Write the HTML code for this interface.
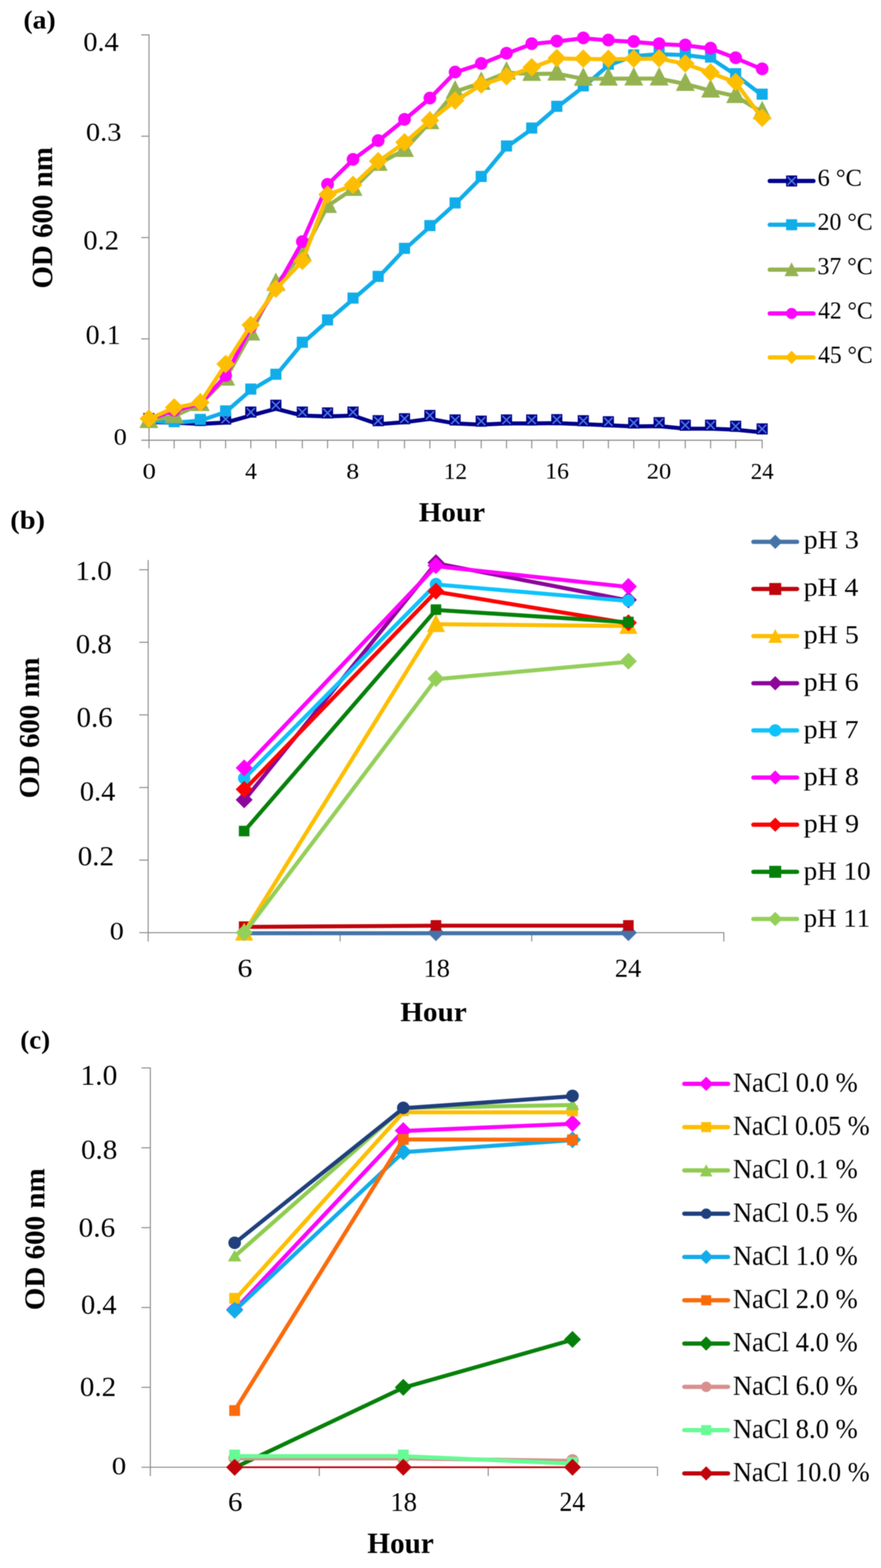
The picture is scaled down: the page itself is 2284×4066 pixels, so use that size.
<!DOCTYPE html>
<html lang="en">
<head>
<meta charset="utf-8">
<title>Growth curves: temperature, pH and NaCl</title>
<style>
html, body { margin: 0; padding: 0; background: #ffffff; }
body { width: 2284px; height: 4066px; overflow: hidden; }
svg { display: block; font-family: 'Liberation Serif', serif; font-kerning: none; font-variant-ligatures: none; filter: blur(1.1px); }
</style>
</head>
<body>
<svg width="2284" height="4066" viewBox="0 0 2284 4066">
<rect width="2284" height="4066" fill="#ffffff"/>
<line x1="386.3" y1="89.1" x2="386.3" y2="1162.6" stroke="#878787" stroke-width="2.6" stroke-linecap="butt"/>
<line x1="366.3" y1="1141.6" x2="1977.2" y2="1141.6" stroke="#878787" stroke-width="2.6" stroke-linecap="butt"/>
<line x1="366.3" y1="878.8" x2="386.3" y2="878.8" stroke="#878787" stroke-width="2.6" stroke-linecap="butt"/>
<line x1="366.3" y1="616.0" x2="386.3" y2="616.0" stroke="#878787" stroke-width="2.6" stroke-linecap="butt"/>
<line x1="366.3" y1="353.2" x2="386.3" y2="353.2" stroke="#878787" stroke-width="2.6" stroke-linecap="butt"/>
<line x1="366.3" y1="90.4" x2="386.3" y2="90.4" stroke="#878787" stroke-width="2.6" stroke-linecap="butt"/>
<line x1="451.6" y1="1141.6" x2="451.6" y2="1162.6" stroke="#878787" stroke-width="2.6" stroke-linecap="butt"/>
<line x1="519.3" y1="1141.6" x2="519.3" y2="1162.6" stroke="#878787" stroke-width="2.6" stroke-linecap="butt"/>
<line x1="584.9" y1="1141.6" x2="584.9" y2="1162.6" stroke="#878787" stroke-width="2.6" stroke-linecap="butt"/>
<line x1="650.2" y1="1141.6" x2="650.2" y2="1162.6" stroke="#878787" stroke-width="2.6" stroke-linecap="butt"/>
<line x1="715.2" y1="1141.6" x2="715.2" y2="1162.6" stroke="#878787" stroke-width="2.6" stroke-linecap="butt"/>
<line x1="783.8" y1="1141.6" x2="783.8" y2="1162.6" stroke="#878787" stroke-width="2.6" stroke-linecap="butt"/>
<line x1="849.2" y1="1141.6" x2="849.2" y2="1162.6" stroke="#878787" stroke-width="2.6" stroke-linecap="butt"/>
<line x1="915.2" y1="1141.6" x2="915.2" y2="1162.6" stroke="#878787" stroke-width="2.6" stroke-linecap="butt"/>
<line x1="980.4" y1="1141.6" x2="980.4" y2="1162.6" stroke="#878787" stroke-width="2.6" stroke-linecap="butt"/>
<line x1="1048.7" y1="1141.6" x2="1048.7" y2="1162.6" stroke="#878787" stroke-width="2.6" stroke-linecap="butt"/>
<line x1="1114.5" y1="1141.6" x2="1114.5" y2="1162.6" stroke="#878787" stroke-width="2.6" stroke-linecap="butt"/>
<line x1="1179.9" y1="1141.6" x2="1179.9" y2="1162.6" stroke="#878787" stroke-width="2.6" stroke-linecap="butt"/>
<line x1="1247.6" y1="1141.6" x2="1247.6" y2="1162.6" stroke="#878787" stroke-width="2.6" stroke-linecap="butt"/>
<line x1="1313.1" y1="1141.6" x2="1313.1" y2="1162.6" stroke="#878787" stroke-width="2.6" stroke-linecap="butt"/>
<line x1="1378.5" y1="1141.6" x2="1378.5" y2="1162.6" stroke="#878787" stroke-width="2.6" stroke-linecap="butt"/>
<line x1="1443.5" y1="1141.6" x2="1443.5" y2="1162.6" stroke="#878787" stroke-width="2.6" stroke-linecap="butt"/>
<line x1="1512.2" y1="1141.6" x2="1512.2" y2="1162.6" stroke="#878787" stroke-width="2.6" stroke-linecap="butt"/>
<line x1="1577.2" y1="1141.6" x2="1577.2" y2="1162.6" stroke="#878787" stroke-width="2.6" stroke-linecap="butt"/>
<line x1="1643.0" y1="1141.6" x2="1643.0" y2="1162.6" stroke="#878787" stroke-width="2.6" stroke-linecap="butt"/>
<line x1="1708.8" y1="1141.6" x2="1708.8" y2="1162.6" stroke="#878787" stroke-width="2.6" stroke-linecap="butt"/>
<line x1="1776.6" y1="1141.6" x2="1776.6" y2="1162.6" stroke="#878787" stroke-width="2.6" stroke-linecap="butt"/>
<line x1="1842.2" y1="1141.6" x2="1842.2" y2="1162.6" stroke="#878787" stroke-width="2.6" stroke-linecap="butt"/>
<line x1="1907.2" y1="1141.6" x2="1907.2" y2="1162.6" stroke="#878787" stroke-width="2.6" stroke-linecap="butt"/>
<line x1="1975.9" y1="1141.6" x2="1975.9" y2="1162.6" stroke="#878787" stroke-width="2.6" stroke-linecap="butt"/>
<polyline points="385.8,1094.4 451.6,1096.0 519.3,1099.2 584.9,1095.7 650.2,1077.6 715.2,1059.9 783.8,1077.6 849.2,1079.8 915.2,1077.6 980.4,1099.9 1048.7,1094.9 1114.5,1086.4 1179.9,1098.0 1247.6,1101.1 1313.1,1098.0 1378.5,1098.0 1443.5,1097.2 1512.2,1100.0 1577.2,1102.7 1643.0,1105.8 1708.8,1105.0 1776.6,1111.6 1842.2,1111.6 1907.2,1114.3 1975.9,1121.2" fill="none" stroke="#00008a" stroke-width="10.4" stroke-linejoin="round" stroke-linecap="round"/>
<rect x="371.4" y="1071.0" width="28.8" height="28.8" fill="#00008a"/>
<path d="M375.1 1074.7L396.5 1096.1M396.5 1074.7L375.1 1096.1" stroke="#4a78dc" stroke-width="4.0" fill="none"/>
<rect x="437.2" y="1072.6" width="28.8" height="28.8" fill="#00008a"/>
<path d="M440.9 1076.3L462.3 1097.7M462.3 1076.3L440.9 1097.7" stroke="#4a78dc" stroke-width="4.0" fill="none"/>
<rect x="504.9" y="1075.8" width="28.8" height="28.8" fill="#00008a"/>
<path d="M508.6 1079.5L530.0 1100.9M530.0 1079.5L508.6 1100.9" stroke="#4a78dc" stroke-width="4.0" fill="none"/>
<rect x="570.5" y="1072.3" width="28.8" height="28.8" fill="#00008a"/>
<path d="M574.2 1076.0L595.6 1097.4M595.6 1076.0L574.2 1097.4" stroke="#4a78dc" stroke-width="4.0" fill="none"/>
<rect x="635.8" y="1054.2" width="28.8" height="28.8" fill="#00008a"/>
<path d="M639.5 1057.9L660.9 1079.3M660.9 1057.9L639.5 1079.3" stroke="#4a78dc" stroke-width="4.0" fill="none"/>
<rect x="700.8" y="1036.5" width="28.8" height="28.8" fill="#00008a"/>
<path d="M704.5 1040.2L725.9 1061.6M725.9 1040.2L704.5 1061.6" stroke="#4a78dc" stroke-width="4.0" fill="none"/>
<rect x="769.4" y="1054.2" width="28.8" height="28.8" fill="#00008a"/>
<path d="M773.1 1057.9L794.5 1079.3M794.5 1057.9L773.1 1079.3" stroke="#4a78dc" stroke-width="4.0" fill="none"/>
<rect x="834.8" y="1056.4" width="28.8" height="28.8" fill="#00008a"/>
<path d="M838.5 1060.1L859.9 1081.5M859.9 1060.1L838.5 1081.5" stroke="#4a78dc" stroke-width="4.0" fill="none"/>
<rect x="900.8" y="1054.2" width="28.8" height="28.8" fill="#00008a"/>
<path d="M904.5 1057.9L925.9 1079.3M925.9 1057.9L904.5 1079.3" stroke="#4a78dc" stroke-width="4.0" fill="none"/>
<rect x="966.0" y="1076.5" width="28.8" height="28.8" fill="#00008a"/>
<path d="M969.7 1080.2L991.1 1101.6M991.1 1080.2L969.7 1101.6" stroke="#4a78dc" stroke-width="4.0" fill="none"/>
<rect x="1034.3" y="1071.5" width="28.8" height="28.8" fill="#00008a"/>
<path d="M1038.0 1075.2L1059.4 1096.6M1059.4 1075.2L1038.0 1096.6" stroke="#4a78dc" stroke-width="4.0" fill="none"/>
<rect x="1100.1" y="1063.0" width="28.8" height="28.8" fill="#00008a"/>
<path d="M1103.8 1066.7L1125.2 1088.1M1125.2 1066.7L1103.8 1088.1" stroke="#4a78dc" stroke-width="4.0" fill="none"/>
<rect x="1165.5" y="1074.6" width="28.8" height="28.8" fill="#00008a"/>
<path d="M1169.2 1078.3L1190.6 1099.7M1190.6 1078.3L1169.2 1099.7" stroke="#4a78dc" stroke-width="4.0" fill="none"/>
<rect x="1233.2" y="1077.7" width="28.8" height="28.8" fill="#00008a"/>
<path d="M1236.9 1081.4L1258.3 1102.8M1258.3 1081.4L1236.9 1102.8" stroke="#4a78dc" stroke-width="4.0" fill="none"/>
<rect x="1298.7" y="1074.6" width="28.8" height="28.8" fill="#00008a"/>
<path d="M1302.4 1078.3L1323.8 1099.7M1323.8 1078.3L1302.4 1099.7" stroke="#4a78dc" stroke-width="4.0" fill="none"/>
<rect x="1364.1" y="1074.6" width="28.8" height="28.8" fill="#00008a"/>
<path d="M1367.8 1078.3L1389.2 1099.7M1389.2 1078.3L1367.8 1099.7" stroke="#4a78dc" stroke-width="4.0" fill="none"/>
<rect x="1429.1" y="1073.8" width="28.8" height="28.8" fill="#00008a"/>
<path d="M1432.8 1077.5L1454.2 1098.9M1454.2 1077.5L1432.8 1098.9" stroke="#4a78dc" stroke-width="4.0" fill="none"/>
<rect x="1497.8" y="1076.6" width="28.8" height="28.8" fill="#00008a"/>
<path d="M1501.5 1080.3L1522.9 1101.7M1522.9 1080.3L1501.5 1101.7" stroke="#4a78dc" stroke-width="4.0" fill="none"/>
<rect x="1562.8" y="1079.3" width="28.8" height="28.8" fill="#00008a"/>
<path d="M1566.5 1083.0L1587.9 1104.4M1587.9 1083.0L1566.5 1104.4" stroke="#4a78dc" stroke-width="4.0" fill="none"/>
<rect x="1628.6" y="1082.4" width="28.8" height="28.8" fill="#00008a"/>
<path d="M1632.3 1086.1L1653.7 1107.5M1653.7 1086.1L1632.3 1107.5" stroke="#4a78dc" stroke-width="4.0" fill="none"/>
<rect x="1694.4" y="1081.6" width="28.8" height="28.8" fill="#00008a"/>
<path d="M1698.1 1085.3L1719.5 1106.7M1719.5 1085.3L1698.1 1106.7" stroke="#4a78dc" stroke-width="4.0" fill="none"/>
<rect x="1762.2" y="1088.2" width="28.8" height="28.8" fill="#00008a"/>
<path d="M1765.9 1091.9L1787.3 1113.3M1787.3 1091.9L1765.9 1113.3" stroke="#4a78dc" stroke-width="4.0" fill="none"/>
<rect x="1827.8" y="1088.2" width="28.8" height="28.8" fill="#00008a"/>
<path d="M1831.5 1091.9L1852.9 1113.3M1852.9 1091.9L1831.5 1113.3" stroke="#4a78dc" stroke-width="4.0" fill="none"/>
<rect x="1892.8" y="1090.9" width="28.8" height="28.8" fill="#00008a"/>
<path d="M1896.5 1094.6L1917.9 1116.0M1917.9 1094.6L1896.5 1116.0" stroke="#4a78dc" stroke-width="4.0" fill="none"/>
<rect x="1961.5" y="1097.8" width="28.8" height="28.8" fill="#00008a"/>
<path d="M1965.2 1101.5L1986.6 1122.9M1986.6 1101.5L1965.2 1122.9" stroke="#4a78dc" stroke-width="4.0" fill="none"/>
<polyline points="385.8,1091.0 451.6,1096.5 519.3,1090.6 584.9,1068.5 650.2,1011.9 715.2,973.5 783.8,890.5 849.2,832.5 915.2,776.0 980.4,719.7 1048.7,647.0 1114.5,588.0 1179.9,529.2 1247.6,460.6 1313.1,381.5 1378.5,335.0 1443.5,278.7 1512.2,225.6 1577.2,169.5 1643.0,145.4 1708.8,140.5 1776.6,142.7 1842.2,151.0 1907.2,194.1 1975.9,247.2" fill="none" stroke="#10adea" stroke-width="10.4" stroke-linejoin="round" stroke-linecap="round"/>
<rect x="371.4" y="1073.6" width="28.8" height="28.8" fill="#10adea"/>
<rect x="437.2" y="1079.1" width="28.8" height="28.8" fill="#10adea"/>
<rect x="504.9" y="1073.2" width="28.8" height="28.8" fill="#10adea"/>
<rect x="570.5" y="1051.1" width="28.8" height="28.8" fill="#10adea"/>
<rect x="635.8" y="994.5" width="28.8" height="28.8" fill="#10adea"/>
<rect x="700.8" y="956.1" width="28.8" height="28.8" fill="#10adea"/>
<rect x="769.4" y="873.1" width="28.8" height="28.8" fill="#10adea"/>
<rect x="834.8" y="815.1" width="28.8" height="28.8" fill="#10adea"/>
<rect x="900.8" y="758.6" width="28.8" height="28.8" fill="#10adea"/>
<rect x="966.0" y="702.3" width="28.8" height="28.8" fill="#10adea"/>
<rect x="1034.3" y="629.6" width="28.8" height="28.8" fill="#10adea"/>
<rect x="1100.1" y="570.6" width="28.8" height="28.8" fill="#10adea"/>
<rect x="1165.5" y="511.8" width="28.8" height="28.8" fill="#10adea"/>
<rect x="1233.2" y="443.2" width="28.8" height="28.8" fill="#10adea"/>
<rect x="1298.7" y="364.1" width="28.8" height="28.8" fill="#10adea"/>
<rect x="1364.1" y="317.6" width="28.8" height="28.8" fill="#10adea"/>
<rect x="1429.1" y="261.3" width="28.8" height="28.8" fill="#10adea"/>
<rect x="1497.8" y="208.2" width="28.8" height="28.8" fill="#10adea"/>
<rect x="1562.8" y="152.1" width="28.8" height="28.8" fill="#10adea"/>
<rect x="1628.6" y="128.0" width="28.8" height="28.8" fill="#10adea"/>
<rect x="1694.4" y="123.1" width="28.8" height="28.8" fill="#10adea"/>
<rect x="1762.2" y="125.3" width="28.8" height="28.8" fill="#10adea"/>
<rect x="1827.8" y="133.6" width="28.8" height="28.8" fill="#10adea"/>
<rect x="1892.8" y="176.7" width="28.8" height="28.8" fill="#10adea"/>
<rect x="1961.5" y="229.8" width="28.8" height="28.8" fill="#10adea"/>
<polyline points="385.8,1092.0 451.6,1079.0 519.3,1048.0 584.9,982.0 650.2,865.0 715.2,736.5 783.8,659.0 849.2,534.3 915.2,490.0 980.4,425.0 1048.7,389.0 1114.5,317.0 1179.9,237.6 1247.6,215.0 1313.1,188.5 1378.5,191.8 1443.5,191.0 1512.2,204.4 1577.2,204.0 1643.0,203.8 1708.8,203.8 1776.6,217.7 1842.2,235.0 1907.2,249.2 1975.9,291.3" fill="none" stroke="#94b350" stroke-width="10.4" stroke-linejoin="round" stroke-linecap="round"/>
<path d="M385.8 1062.0L410.3 1110.0L361.3 1110.0Z" fill="#94b350"/>
<path d="M451.6 1049.0L476.1 1097.0L427.1 1097.0Z" fill="#94b350"/>
<path d="M519.3 1018.0L543.8 1066.0L494.8 1066.0Z" fill="#94b350"/>
<path d="M584.9 952.0L609.4 1000.0L560.4 1000.0Z" fill="#94b350"/>
<path d="M650.2 835.0L674.7 883.0L625.7 883.0Z" fill="#94b350"/>
<path d="M715.2 706.5L739.7 754.5L690.7 754.5Z" fill="#94b350"/>
<path d="M783.8 629.0L808.3 677.0L759.3 677.0Z" fill="#94b350"/>
<path d="M849.2 504.3L873.7 552.3L824.7 552.3Z" fill="#94b350"/>
<path d="M915.2 460.0L939.7 508.0L890.7 508.0Z" fill="#94b350"/>
<path d="M980.4 395.0L1004.9 443.0L955.9 443.0Z" fill="#94b350"/>
<path d="M1048.7 359.0L1073.2 407.0L1024.2 407.0Z" fill="#94b350"/>
<path d="M1114.5 287.0L1139.0 335.0L1090.0 335.0Z" fill="#94b350"/>
<path d="M1179.9 207.6L1204.4 255.6L1155.4 255.6Z" fill="#94b350"/>
<path d="M1247.6 185.0L1272.1 233.0L1223.1 233.0Z" fill="#94b350"/>
<path d="M1313.1 158.5L1337.6 206.5L1288.6 206.5Z" fill="#94b350"/>
<path d="M1378.5 161.8L1403.0 209.8L1354.0 209.8Z" fill="#94b350"/>
<path d="M1443.5 161.0L1468.0 209.0L1419.0 209.0Z" fill="#94b350"/>
<path d="M1512.2 174.4L1536.7 222.4L1487.7 222.4Z" fill="#94b350"/>
<path d="M1577.2 174.0L1601.7 222.0L1552.7 222.0Z" fill="#94b350"/>
<path d="M1643.0 173.8L1667.5 221.8L1618.5 221.8Z" fill="#94b350"/>
<path d="M1708.8 173.8L1733.3 221.8L1684.3 221.8Z" fill="#94b350"/>
<path d="M1776.6 187.7L1801.1 235.7L1752.1 235.7Z" fill="#94b350"/>
<path d="M1842.2 205.0L1866.7 253.0L1817.7 253.0Z" fill="#94b350"/>
<path d="M1907.2 219.2L1931.7 267.2L1882.7 267.2Z" fill="#94b350"/>
<path d="M1975.9 261.3L2000.4 309.3L1951.4 309.3Z" fill="#94b350"/>
<polyline points="385.8,1087.0 451.6,1065.0 519.3,1047.0 584.9,974.8 650.2,849.0 715.2,749.0 783.8,627.5 849.2,478.9 915.2,414.2 980.4,365.6 1048.7,310.4 1114.5,255.2 1179.9,187.8 1247.6,165.6 1313.1,139.0 1378.5,114.2 1443.5,107.5 1512.2,99.2 1577.2,104.8 1643.0,108.5 1708.8,114.2 1776.6,117.5 1842.2,125.8 1907.2,150.7 1975.9,179.5" fill="none" stroke="#fd04fd" stroke-width="10.4" stroke-linejoin="round" stroke-linecap="round"/>
<circle cx="385.8" cy="1086.0" r="16.5" fill="#fd04fd"/>
<circle cx="451.6" cy="1064.0" r="16.5" fill="#fd04fd"/>
<circle cx="519.3" cy="1046.0" r="16.5" fill="#fd04fd"/>
<circle cx="584.9" cy="973.8" r="16.5" fill="#fd04fd"/>
<circle cx="650.2" cy="848.0" r="16.5" fill="#fd04fd"/>
<circle cx="715.2" cy="748.0" r="16.5" fill="#fd04fd"/>
<circle cx="783.8" cy="626.5" r="16.5" fill="#fd04fd"/>
<circle cx="849.2" cy="477.9" r="16.5" fill="#fd04fd"/>
<circle cx="915.2" cy="413.2" r="16.5" fill="#fd04fd"/>
<circle cx="980.4" cy="364.6" r="16.5" fill="#fd04fd"/>
<circle cx="1048.7" cy="309.4" r="16.5" fill="#fd04fd"/>
<circle cx="1114.5" cy="254.2" r="16.5" fill="#fd04fd"/>
<circle cx="1179.9" cy="186.8" r="16.5" fill="#fd04fd"/>
<circle cx="1247.6" cy="164.6" r="16.5" fill="#fd04fd"/>
<circle cx="1313.1" cy="138.0" r="16.5" fill="#fd04fd"/>
<circle cx="1378.5" cy="113.2" r="16.5" fill="#fd04fd"/>
<circle cx="1443.5" cy="106.5" r="16.5" fill="#fd04fd"/>
<circle cx="1512.2" cy="98.2" r="16.5" fill="#fd04fd"/>
<circle cx="1577.2" cy="103.8" r="16.5" fill="#fd04fd"/>
<circle cx="1643.0" cy="107.5" r="16.5" fill="#fd04fd"/>
<circle cx="1708.8" cy="113.2" r="16.5" fill="#fd04fd"/>
<circle cx="1776.6" cy="116.5" r="16.5" fill="#fd04fd"/>
<circle cx="1842.2" cy="124.8" r="16.5" fill="#fd04fd"/>
<circle cx="1907.2" cy="149.7" r="16.5" fill="#fd04fd"/>
<circle cx="1975.9" cy="178.5" r="16.5" fill="#fd04fd"/>
<polyline points="385.8,1086.4 451.6,1057.6 519.3,1044.4 584.9,944.9 650.2,843.7 715.2,749.5 783.8,677.5 849.2,505.4 915.2,480.5 980.4,419.1 1048.7,370.0 1114.5,313.2 1179.9,261.8 1247.6,220.3 1313.1,198.8 1378.5,175.5 1443.5,151.5 1512.2,153.0 1577.2,153.5 1643.0,153.0 1708.8,152.0 1776.6,165.6 1842.2,188.8 1907.2,213.7 1975.9,306.6" fill="none" stroke="#fdbe02" stroke-width="10.4" stroke-linejoin="round" stroke-linecap="round"/>
<path d="M385.8 1061.4L409.8 1085.4L385.8 1109.4L361.8 1085.4Z" fill="#fdbe02"/>
<path d="M451.6 1032.6L475.6 1056.6L451.6 1080.6L427.6 1056.6Z" fill="#fdbe02"/>
<path d="M519.3 1019.4L543.3 1043.4L519.3 1067.4L495.3 1043.4Z" fill="#fdbe02"/>
<path d="M584.9 919.9L608.9 943.9L584.9 967.9L560.9 943.9Z" fill="#fdbe02"/>
<path d="M650.2 818.7L674.2 842.7L650.2 866.7L626.2 842.7Z" fill="#fdbe02"/>
<path d="M715.2 724.5L739.2 748.5L715.2 772.5L691.2 748.5Z" fill="#fdbe02"/>
<path d="M783.8 652.5L807.8 676.5L783.8 700.5L759.8 676.5Z" fill="#fdbe02"/>
<path d="M849.2 480.4L873.2 504.4L849.2 528.4L825.2 504.4Z" fill="#fdbe02"/>
<path d="M915.2 455.5L939.2 479.5L915.2 503.5L891.2 479.5Z" fill="#fdbe02"/>
<path d="M980.4 394.1L1004.4 418.1L980.4 442.1L956.4 418.1Z" fill="#fdbe02"/>
<path d="M1048.7 345.0L1072.7 369.0L1048.7 393.0L1024.7 369.0Z" fill="#fdbe02"/>
<path d="M1114.5 288.2L1138.5 312.2L1114.5 336.2L1090.5 312.2Z" fill="#fdbe02"/>
<path d="M1179.9 236.8L1203.9 260.8L1179.9 284.8L1155.9 260.8Z" fill="#fdbe02"/>
<path d="M1247.6 195.3L1271.6 219.3L1247.6 243.3L1223.6 219.3Z" fill="#fdbe02"/>
<path d="M1313.1 173.8L1337.1 197.8L1313.1 221.8L1289.1 197.8Z" fill="#fdbe02"/>
<path d="M1378.5 150.5L1402.5 174.5L1378.5 198.5L1354.5 174.5Z" fill="#fdbe02"/>
<path d="M1443.5 126.5L1467.5 150.5L1443.5 174.5L1419.5 150.5Z" fill="#fdbe02"/>
<path d="M1512.2 128.0L1536.2 152.0L1512.2 176.0L1488.2 152.0Z" fill="#fdbe02"/>
<path d="M1577.2 128.5L1601.2 152.5L1577.2 176.5L1553.2 152.5Z" fill="#fdbe02"/>
<path d="M1643.0 128.0L1667.0 152.0L1643.0 176.0L1619.0 152.0Z" fill="#fdbe02"/>
<path d="M1708.8 127.0L1732.8 151.0L1708.8 175.0L1684.8 151.0Z" fill="#fdbe02"/>
<path d="M1776.6 140.6L1800.6 164.6L1776.6 188.6L1752.6 164.6Z" fill="#fdbe02"/>
<path d="M1842.2 163.8L1866.2 187.8L1842.2 211.8L1818.2 187.8Z" fill="#fdbe02"/>
<path d="M1907.2 188.7L1931.2 212.7L1907.2 236.7L1883.2 212.7Z" fill="#fdbe02"/>
<path d="M1975.9 281.6L1999.9 305.6L1975.9 329.6L1951.9 305.6Z" fill="#fdbe02"/>
<line x1="1995.5" y1="469.3" x2="2109.0" y2="469.3" stroke="#00008a" stroke-width="11" stroke-linecap="round"/>
<rect x="2038.0" y="455.0" width="28.6" height="28.6" fill="#00008a"/>
<path d="M2041.7 458.7L2062.8 479.9M2062.8 458.7L2041.7 479.9" stroke="#4a78dc" stroke-width="4.0" fill="none"/>
<line x1="1995.5" y1="582.8" x2="2109.0" y2="582.8" stroke="#10adea" stroke-width="11" stroke-linecap="round"/>
<rect x="2038.0" y="568.5" width="28.6" height="28.6" fill="#10adea"/>
<line x1="1995.5" y1="699.3" x2="2109.0" y2="699.3" stroke="#94b350" stroke-width="11" stroke-linecap="round"/>
<path d="M2052.2 680.3L2070.8 716.3L2033.8 716.3Z" fill="#94b350"/>
<line x1="1995.5" y1="812.8" x2="2109.0" y2="812.8" stroke="#fd04fd" stroke-width="11" stroke-linecap="round"/>
<circle cx="2052.2" cy="812.8" r="14.3" fill="#fd04fd"/>
<line x1="1995.5" y1="926.8" x2="2109.0" y2="926.8" stroke="#fdbe02" stroke-width="11" stroke-linecap="round"/>
<path d="M2052.2 909.5L2069.6 926.8L2052.2 944.1L2035.0 926.8Z" fill="#fdbe02"/>
<line x1="384.1" y1="1452.3" x2="384.1" y2="2441.5" stroke="#878787" stroke-width="2.6" stroke-linecap="butt"/>
<line x1="361.1" y1="2418.5" x2="1877.8" y2="2418.5" stroke="#878787" stroke-width="2.6" stroke-linecap="butt"/>
<line x1="361.1" y1="2230.3" x2="384.1" y2="2230.3" stroke="#878787" stroke-width="2.6" stroke-linecap="butt"/>
<line x1="361.1" y1="2042.1" x2="384.1" y2="2042.1" stroke="#878787" stroke-width="2.6" stroke-linecap="butt"/>
<line x1="361.1" y1="1853.8" x2="384.1" y2="1853.8" stroke="#878787" stroke-width="2.6" stroke-linecap="butt"/>
<line x1="361.1" y1="1665.6" x2="384.1" y2="1665.6" stroke="#878787" stroke-width="2.6" stroke-linecap="butt"/>
<line x1="361.1" y1="1477.4" x2="384.1" y2="1477.4" stroke="#878787" stroke-width="2.6" stroke-linecap="butt"/>
<line x1="881.8" y1="2418.5" x2="881.8" y2="2441.5" stroke="#878787" stroke-width="2.6" stroke-linecap="butt"/>
<line x1="1378.5" y1="2418.5" x2="1378.5" y2="2441.5" stroke="#878787" stroke-width="2.6" stroke-linecap="butt"/>
<line x1="1876.5" y1="2418.5" x2="1876.5" y2="2441.5" stroke="#878787" stroke-width="2.6" stroke-linecap="butt"/>
<polyline points="633.0,2420.0 1130.2,2420.0 1629.1,2420.0" fill="none" stroke="#4573a7" stroke-width="10.4" stroke-linejoin="round" stroke-linecap="round"/>
<path d="M633.0 2396.5L655.0 2418.5L633.0 2440.5L611.0 2418.5Z" fill="#4573a7"/>
<path d="M1130.2 2396.5L1152.2 2418.5L1130.2 2440.5L1108.2 2418.5Z" fill="#4573a7"/>
<path d="M1629.1 2396.5L1651.1 2418.5L1629.1 2440.5L1607.1 2418.5Z" fill="#4573a7"/>
<polyline points="633.0,2403.6 1130.2,2400.4 1629.1,2400.4" fill="none" stroke="#c0040b" stroke-width="10.4" stroke-linejoin="round" stroke-linecap="round"/>
<rect x="619.3" y="2389.2" width="27.4" height="27.4" fill="#c0040b"/>
<rect x="1116.5" y="2386.0" width="27.4" height="27.4" fill="#c0040b"/>
<rect x="1615.4" y="2386.0" width="27.4" height="27.4" fill="#c0040b"/>
<polyline points="633.0,2418.5 1130.2,1618.6 1629.1,1623.3" fill="none" stroke="#fdbe02" stroke-width="10.4" stroke-linejoin="round" stroke-linecap="round"/>
<path d="M633.0 2392.5L656.5 2439.0L609.5 2439.0Z" fill="#fdbe02"/>
<path d="M1130.2 1592.6L1153.7 1639.1L1106.7 1639.1Z" fill="#fdbe02"/>
<path d="M1629.1 1597.3L1652.6 1643.8L1605.6 1643.8Z" fill="#fdbe02"/>
<polyline points="633.0,2075.6 1130.2,1460.5 1629.1,1557.0" fill="none" stroke="#8b069b" stroke-width="10.4" stroke-linejoin="round" stroke-linecap="round"/>
<path d="M633.0 2052.1L655.0 2074.1L633.0 2096.1L611.0 2074.1Z" fill="#8b069b"/>
<path d="M1130.2 1437.0L1152.2 1459.0L1130.2 1481.0L1108.2 1459.0Z" fill="#8b069b"/>
<path d="M1629.1 1533.5L1651.1 1555.5L1629.1 1577.5L1607.1 1555.5Z" fill="#8b069b"/>
<polyline points="633.0,2018.9 1130.2,1515.6 1629.1,1558.4" fill="none" stroke="#0dc3fb" stroke-width="10.4" stroke-linejoin="round" stroke-linecap="round"/>
<circle cx="633.0" cy="2017.9" r="16.0" fill="#0dc3fb"/>
<circle cx="1130.2" cy="1514.6" r="16.0" fill="#0dc3fb"/>
<circle cx="1629.1" cy="1557.4" r="16.0" fill="#0dc3fb"/>
<polyline points="633.0,1992.7 1130.2,1468.1 1629.1,1522.2" fill="none" stroke="#fe02fe" stroke-width="10.4" stroke-linejoin="round" stroke-linecap="round"/>
<path d="M633.0 1969.2L655.0 1991.2L633.0 2013.2L611.0 1991.2Z" fill="#fe02fe"/>
<path d="M1130.2 1444.6L1152.2 1466.6L1130.2 1488.6L1108.2 1466.6Z" fill="#fe02fe"/>
<path d="M1629.1 1498.7L1651.1 1520.7L1629.1 1542.7L1607.1 1520.7Z" fill="#fe02fe"/>
<polyline points="633.0,2048.3 1130.2,1534.4 1629.1,1616.3" fill="none" stroke="#fd0303" stroke-width="10.4" stroke-linejoin="round" stroke-linecap="round"/>
<path d="M633.0 2024.8L655.0 2046.8L633.0 2068.8L611.0 2046.8Z" fill="#fd0303"/>
<path d="M1130.2 1510.9L1152.2 1532.9L1130.2 1554.9L1108.2 1532.9Z" fill="#fd0303"/>
<path d="M1629.1 1592.8L1651.1 1614.8L1629.1 1636.8L1607.1 1614.8Z" fill="#fd0303"/>
<polyline points="633.0,2155.7 1130.2,1581.6 1629.1,1613.6" fill="none" stroke="#06800a" stroke-width="10.4" stroke-linejoin="round" stroke-linecap="round"/>
<rect x="619.3" y="2141.3" width="27.4" height="27.4" fill="#06800a"/>
<rect x="1116.5" y="1567.2" width="27.4" height="27.4" fill="#06800a"/>
<rect x="1615.4" y="1599.2" width="27.4" height="27.4" fill="#06800a"/>
<polyline points="633.0,2420.0 1130.2,1761.2 1629.1,1716.1" fill="none" stroke="#94cf5a" stroke-width="10.4" stroke-linejoin="round" stroke-linecap="round"/>
<path d="M633.0 2396.5L655.0 2418.5L633.0 2440.5L611.0 2418.5Z" fill="#94cf5a"/>
<path d="M1130.2 1737.7L1152.2 1759.7L1130.2 1781.7L1108.2 1759.7Z" fill="#94cf5a"/>
<path d="M1629.1 1692.6L1651.1 1714.6L1629.1 1736.6L1607.1 1714.6Z" fill="#94cf5a"/>
<line x1="1953.1" y1="1405.0" x2="2066.5" y2="1405.0" stroke="#4573a7" stroke-width="11" stroke-linecap="round"/>
<path d="M2009.8 1386.5L2028.3 1405.0L2009.8 1423.5L1991.3 1405.0Z" fill="#4573a7"/>
<line x1="1953.1" y1="1527.2" x2="2066.5" y2="1527.2" stroke="#c0040b" stroke-width="11" stroke-linecap="round"/>
<rect x="1994.3" y="1511.8" width="31.0" height="31.0" fill="#c0040b"/>
<line x1="1953.1" y1="1649.5" x2="2066.5" y2="1649.5" stroke="#fdbe02" stroke-width="11" stroke-linecap="round"/>
<path d="M2009.8 1631.0L2027.8 1667.0L1991.8 1667.0Z" fill="#fdbe02"/>
<line x1="1953.1" y1="1771.8" x2="2066.5" y2="1771.8" stroke="#8b069b" stroke-width="11" stroke-linecap="round"/>
<path d="M2009.8 1753.2L2028.3 1771.8L2009.8 1790.2L1991.3 1771.8Z" fill="#8b069b"/>
<line x1="1953.1" y1="1894.0" x2="2066.5" y2="1894.0" stroke="#0dc3fb" stroke-width="11" stroke-linecap="round"/>
<circle cx="2009.8" cy="1894.0" r="16.0" fill="#0dc3fb"/>
<line x1="1953.1" y1="2016.2" x2="2066.5" y2="2016.2" stroke="#fe02fe" stroke-width="11" stroke-linecap="round"/>
<path d="M2009.8 1997.8L2028.3 2016.2L2009.8 2034.8L1991.3 2016.2Z" fill="#fe02fe"/>
<line x1="1953.1" y1="2138.5" x2="2066.5" y2="2138.5" stroke="#fd0303" stroke-width="11" stroke-linecap="round"/>
<path d="M2009.8 2120.0L2028.3 2138.5L2009.8 2157.0L1991.3 2138.5Z" fill="#fd0303"/>
<line x1="1953.1" y1="2260.8" x2="2066.5" y2="2260.8" stroke="#06800a" stroke-width="11" stroke-linecap="round"/>
<rect x="1994.3" y="2245.2" width="31.0" height="31.0" fill="#06800a"/>
<line x1="1953.1" y1="2383.0" x2="2066.5" y2="2383.0" stroke="#94cf5a" stroke-width="11" stroke-linecap="round"/>
<path d="M2009.8 2364.5L2028.3 2383.0L2009.8 2401.5L1991.3 2383.0Z" fill="#94cf5a"/>
<line x1="389.8" y1="2767.9" x2="389.8" y2="3827.7" stroke="#878787" stroke-width="2.6" stroke-linecap="butt"/>
<line x1="366.8" y1="3804.7" x2="1705.9" y2="3804.7" stroke="#878787" stroke-width="2.6" stroke-linecap="butt"/>
<line x1="366.8" y1="3597.6" x2="389.8" y2="3597.6" stroke="#878787" stroke-width="2.6" stroke-linecap="butt"/>
<line x1="366.8" y1="3390.5" x2="389.8" y2="3390.5" stroke="#878787" stroke-width="2.6" stroke-linecap="butt"/>
<line x1="366.8" y1="3183.4" x2="389.8" y2="3183.4" stroke="#878787" stroke-width="2.6" stroke-linecap="butt"/>
<line x1="366.8" y1="2976.3" x2="389.8" y2="2976.3" stroke="#878787" stroke-width="2.6" stroke-linecap="butt"/>
<line x1="366.8" y1="2769.2" x2="389.8" y2="2769.2" stroke="#878787" stroke-width="2.6" stroke-linecap="butt"/>
<line x1="827.8" y1="3804.7" x2="827.8" y2="3827.7" stroke="#878787" stroke-width="2.6" stroke-linecap="butt"/>
<line x1="1265.8" y1="3804.7" x2="1265.8" y2="3827.7" stroke="#878787" stroke-width="2.6" stroke-linecap="butt"/>
<line x1="1704.6" y1="3804.7" x2="1704.6" y2="3827.7" stroke="#878787" stroke-width="2.6" stroke-linecap="butt"/>
<polyline points="608.3,3396.7 1045.5,2932.8 1484.2,2914.1" fill="none" stroke="#fe02fe" stroke-width="10.4" stroke-linejoin="round" stroke-linecap="round"/>
<path d="M608.3 3373.7L630.3 3395.7L608.3 3417.7L586.3 3395.7Z" fill="#fe02fe"/>
<path d="M1045.5 2909.8L1067.5 2931.8L1045.5 2953.8L1023.5 2931.8Z" fill="#fe02fe"/>
<path d="M1484.2 2891.1L1506.2 2913.1L1484.2 2935.1L1462.2 2913.1Z" fill="#fe02fe"/>
<polyline points="608.3,3370.6 1045.5,2884.4 1484.2,2884.4" fill="none" stroke="#fdbe02" stroke-width="10.4" stroke-linejoin="round" stroke-linecap="round"/>
<rect x="594.3" y="3352.7" width="28.0" height="28.0" fill="#fdbe02"/>
<rect x="1031.5" y="2866.5" width="28.0" height="28.0" fill="#fdbe02"/>
<rect x="1470.2" y="2866.5" width="28.0" height="28.0" fill="#fdbe02"/>
<polyline points="608.3,3258.0 1045.5,2872.8 1484.2,2865.5" fill="none" stroke="#8fcc4f" stroke-width="10.4" stroke-linejoin="round" stroke-linecap="round"/>
<path d="M608.3 3241.0L625.8 3271.0L590.8 3271.0Z" fill="#8fcc4f"/>
<path d="M1045.5 2855.8L1063.0 2885.8L1028.0 2885.8Z" fill="#8fcc4f"/>
<path d="M1484.2 2848.5L1501.7 2878.5L1466.7 2878.5Z" fill="#8fcc4f"/>
<polyline points="608.3,3223.7 1045.5,2873.8 1484.2,2842.7" fill="none" stroke="#1f3f7d" stroke-width="10.4" stroke-linejoin="round" stroke-linecap="round"/>
<circle cx="608.3" cy="3222.7" r="16.3" fill="#1f3f7d"/>
<circle cx="1045.5" cy="2872.8" r="16.3" fill="#1f3f7d"/>
<circle cx="1484.2" cy="2841.7" r="16.3" fill="#1f3f7d"/>
<polyline points="608.3,3398.7 1045.5,2987.7 1484.2,2956.6" fill="none" stroke="#12ace9" stroke-width="10.4" stroke-linejoin="round" stroke-linecap="round"/>
<path d="M608.3 3375.7L630.3 3397.7L608.3 3419.7L586.3 3397.7Z" fill="#12ace9"/>
<path d="M1045.5 2964.7L1067.5 2986.7L1045.5 3008.7L1023.5 2986.7Z" fill="#12ace9"/>
<path d="M1484.2 2933.6L1506.2 2955.6L1484.2 2977.6L1462.2 2955.6Z" fill="#12ace9"/>
<polyline points="608.3,3657.7 1045.5,2954.6 1484.2,2955.6" fill="none" stroke="#fb6a0a" stroke-width="10.4" stroke-linejoin="round" stroke-linecap="round"/>
<rect x="594.3" y="3643.7" width="28.0" height="28.0" fill="#fb6a0a"/>
<rect x="1031.5" y="2940.6" width="28.0" height="28.0" fill="#fb6a0a"/>
<rect x="1470.2" y="2941.6" width="28.0" height="28.0" fill="#fb6a0a"/>
<polyline points="608.3,3805.7 1045.5,3598.6 1484.2,3474.3" fill="none" stroke="#06800a" stroke-width="10.4" stroke-linejoin="round" stroke-linecap="round"/>
<path d="M608.3 3782.7L630.3 3804.7L608.3 3826.7L586.3 3804.7Z" fill="#06800a"/>
<path d="M1045.5 3575.6L1067.5 3597.6L1045.5 3619.6L1023.5 3597.6Z" fill="#06800a"/>
<path d="M1484.2 3451.3L1506.2 3473.3L1484.2 3495.3L1462.2 3473.3Z" fill="#06800a"/>
<polyline points="608.3,3781.9 1045.5,3781.9 1484.2,3788.1" fill="none" stroke="#d8908f" stroke-width="10.4" stroke-linejoin="round" stroke-linecap="round"/>
<circle cx="608.3" cy="3780.9" r="16.3" fill="#d8908f"/>
<circle cx="1045.5" cy="3780.9" r="16.3" fill="#d8908f"/>
<circle cx="1484.2" cy="3787.1" r="16.3" fill="#d8908f"/>
<polyline points="608.3,3776.0 1045.5,3776.0 1484.2,3795.3" fill="none" stroke="#66fb95" stroke-width="10.4" stroke-linejoin="round" stroke-linecap="round"/>
<rect x="594.3" y="3759.0" width="28.0" height="28.0" fill="#66fb95"/>
<rect x="1031.5" y="3759.0" width="28.0" height="28.0" fill="#66fb95"/>
<rect x="1470.2" y="3778.3" width="28.0" height="28.0" fill="#66fb95"/>
<polyline points="608.3,3804.7 1045.5,3804.7 1484.2,3804.7" fill="none" stroke="#c0040b" stroke-width="4.5" stroke-linejoin="round" stroke-linecap="round"/>
<path d="M608.3 3782.7L630.3 3804.7L608.3 3826.7L586.3 3804.7Z" fill="#c0040b"/>
<path d="M1045.5 3782.7L1067.5 3804.7L1045.5 3826.7L1023.5 3804.7Z" fill="#c0040b"/>
<path d="M1484.2 3782.7L1506.2 3804.7L1484.2 3826.7L1462.2 3804.7Z" fill="#c0040b"/>
<line x1="1774.0" y1="2810.4" x2="1887.5" y2="2810.4" stroke="#fe02fe" stroke-width="11" stroke-linecap="round"/>
<path d="M1830.8 2791.9L1849.2 2810.4L1830.8 2828.9L1812.2 2810.4Z" fill="#fe02fe"/>
<line x1="1774.0" y1="2922.7" x2="1887.5" y2="2922.7" stroke="#fdbe02" stroke-width="11" stroke-linecap="round"/>
<rect x="1817.8" y="2909.7" width="26.0" height="26.0" fill="#fdbe02"/>
<line x1="1774.0" y1="3034.9" x2="1887.5" y2="3034.9" stroke="#8fcc4f" stroke-width="11" stroke-linecap="round"/>
<path d="M1830.8 3018.9L1846.8 3050.4L1814.8 3050.4Z" fill="#8fcc4f"/>
<line x1="1774.0" y1="3147.2" x2="1887.5" y2="3147.2" stroke="#1f3f7d" stroke-width="11" stroke-linecap="round"/>
<circle cx="1830.8" cy="3147.2" r="13.5" fill="#1f3f7d"/>
<line x1="1774.0" y1="3259.4" x2="1887.5" y2="3259.4" stroke="#12ace9" stroke-width="11" stroke-linecap="round"/>
<path d="M1830.8 3240.9L1849.2 3259.4L1830.8 3277.9L1812.2 3259.4Z" fill="#12ace9"/>
<line x1="1774.0" y1="3371.7" x2="1887.5" y2="3371.7" stroke="#fb6a0a" stroke-width="11" stroke-linecap="round"/>
<rect x="1817.8" y="3358.7" width="26.0" height="26.0" fill="#fb6a0a"/>
<line x1="1774.0" y1="3483.9" x2="1887.5" y2="3483.9" stroke="#06800a" stroke-width="11" stroke-linecap="round"/>
<path d="M1830.8 3465.4L1849.2 3483.9L1830.8 3502.4L1812.2 3483.9Z" fill="#06800a"/>
<line x1="1774.0" y1="3596.2" x2="1887.5" y2="3596.2" stroke="#d8908f" stroke-width="11" stroke-linecap="round"/>
<circle cx="1830.8" cy="3596.2" r="13.5" fill="#d8908f"/>
<line x1="1774.0" y1="3708.4" x2="1887.5" y2="3708.4" stroke="#66fb95" stroke-width="11" stroke-linecap="round"/>
<rect x="1817.8" y="3695.4" width="26.0" height="26.0" fill="#66fb95"/>
<line x1="1774.0" y1="3820.7" x2="1887.5" y2="3820.7" stroke="#c0040b" stroke-width="11" stroke-linecap="round"/>
<path d="M1830.8 3802.2L1849.2 3820.7L1830.8 3839.2L1812.2 3820.7Z" fill="#c0040b"/>
<text transform="matrix(0.7356 0 0 0.7074 215.96 131.64)" font-size="100">0.4</text>
<text transform="matrix(0.7368 0 0 0.6809 222.65 365.28)" font-size="100">0.3</text>
<text transform="matrix(0.7403 0 0 0.7103 216.04 647.23)" font-size="100">0.2</text>
<text transform="matrix(0.7252 0 0 0.7118 222.10 892.13)" font-size="100">0.1</text>
<text transform="matrix(0.6810 0 0 0.6089 294.78 1153.09)" font-size="100">0</text>
<text transform="matrix(0.6952 0 0 0.5807 369.52 1241.22)" font-size="100">0</text>
<text transform="matrix(0.6086 0 0 0.6031 635.48 1242.10)" font-size="100">4</text>
<text transform="matrix(0.6667 0 0 0.5807 897.83 1241.22)" font-size="100">8</text>
<text transform="matrix(0.6035 0 0 0.5939 1150.57 1241.80)" font-size="100">12</text>
<text transform="matrix(0.6148 0 0 0.5851 1413.57 1241.21)" font-size="100">16</text>
<text transform="matrix(0.6328 0 0 0.5807 1676.85 1241.22)" font-size="100">20</text>
<text transform="matrix(0.5957 0 0 0.5939 1946.32 1241.80)" font-size="100">24</text>
<text transform="matrix(0.7540 0 0 0.7176 1085.67 1352.00)" font-size="100" font-weight="bold">Hour</text>
<text transform="matrix(0 -0.7500 0.7522 0 135.25 748.25)" font-size="100" font-weight="bold">OD 600 nm</text>
<text transform="matrix(0.7172 0 0 0.6722 60.67 73.78)" font-size="100" font-weight="bold">(a)</text>
<text transform="matrix(0.6338 0 0 0.6343 2119.45 482.07)" font-size="100">6 °C</text>
<text transform="matrix(0.6172 0 0 0.6343 2119.52 596.37)" font-size="100">20 °C</text>
<text transform="matrix(0.6186 0 0 0.6343 2119.21 711.17)" font-size="100">37 °C</text>
<text transform="matrix(0.6103 0 0 0.6343 2121.08 825.97)" font-size="100">42 °C</text>
<text transform="matrix(0.6103 0 0 0.6343 2121.08 940.77)" font-size="100">45 °C</text>
<text transform="matrix(0.7562 0 0 0.7221 195.19 1504.12)" font-size="100">1.0</text>
<text transform="matrix(0.7444 0 0 0.7191 196.62 1694.02)" font-size="100">0.8</text>
<text transform="matrix(0.7483 0 0 0.7294 198.51 1885.11)" font-size="100">0.6</text>
<text transform="matrix(0.7364 0 0 0.7221 207.05 2075.72)" font-size="100">0.4</text>
<text transform="matrix(0.7541 0 0 0.7235 201.38 2243.91)" font-size="100">0.2</text>
<text transform="matrix(0.7310 0 0 0.6637 284.48 2435.84)" font-size="100">0</text>
<text transform="matrix(0.7765 0 0 0.6716 615.51 2532.73)" font-size="100">6</text>
<text transform="matrix(0.6839 0 0 0.6667 1098.04 2532.73)" font-size="100">18</text>
<text transform="matrix(0.6840 0 0 0.6818 1594.12 2533.40)" font-size="100">24</text>
<text transform="matrix(0.7554 0 0 0.7237 1037.87 2648.00)" font-size="100" font-weight="bold">Hour</text>
<text transform="matrix(0 -0.7465 0.7433 0 100.86 2070.13)" font-size="100" font-weight="bold">OD 600 nm</text>
<text transform="matrix(0.7374 0 0 0.6822 26.58 1371.07)" font-size="100" font-weight="bold">(b)</text>
<text transform="matrix(0.7266 0 0 0.6855 2083.41 1421.60)" font-size="100">pH 3</text>
<text transform="matrix(0.7191 0 0 0.6855 2083.42 1544.50)" font-size="100">pH 4</text>
<text transform="matrix(0.7266 0 0 0.6855 2083.41 1667.50)" font-size="100">pH 5</text>
<text transform="matrix(0.7228 0 0 0.6855 2083.42 1790.80)" font-size="100">pH 6</text>
<text transform="matrix(0.7228 0 0 0.6855 2083.42 1913.50)" font-size="100">pH 7</text>
<text transform="matrix(0.7266 0 0 0.6855 2083.41 2035.90)" font-size="100">pH 8</text>
<text transform="matrix(0.7285 0 0 0.6855 2083.41 2157.80)" font-size="100">pH 9</text>
<text transform="matrix(0.7021 0 0 0.6855 2083.45 2281.00)" font-size="100">pH 10</text>
<text transform="matrix(0.6981 0 0 0.6855 2083.45 2403.40)" font-size="100">pH 11</text>
<text transform="matrix(0.7670 0 0 0.7294 208.40 2812.71)" font-size="100">1.0</text>
<text transform="matrix(0.7547 0 0 0.7103 209.88 3004.93)" font-size="100">0.8</text>
<text transform="matrix(0.7585 0 0 0.7103 203.77 3206.93)" font-size="100">0.6</text>
<text transform="matrix(0.7389 0 0 0.7176 209.94 3407.12)" font-size="100">0.4</text>
<text transform="matrix(0.7532 0 0 0.7176 206.99 3619.92)" font-size="100">0.2</text>
<text transform="matrix(0.7500 0 0 0.6637 289.70 3823.14)" font-size="100">0</text>
<text transform="matrix(0.7506 0 0 0.7060 591.12 3917.69)" font-size="100">6</text>
<text transform="matrix(0.6908 0 0 0.7007 1011.98 3917.70)" font-size="100">18</text>
<text transform="matrix(0.6628 0 0 0.7167 1450.52 3918.40)" font-size="100">24</text>
<text transform="matrix(0.7563 0 0 0.7603 952.37 4026.60)" font-size="100" font-weight="bold">Hour</text>
<text transform="matrix(0 -0.7527 0.7403 0 115.16 3397.56)" font-size="100" font-weight="bold">OD 600 nm</text>
<text transform="matrix(0.6990 0 0 0.6822 52.45 2719.47)" font-size="100" font-weight="bold">(c)</text>
<text transform="matrix(0.6896 0 0 0.7138 1899.93 2830.90)" font-size="100">NaCl 0.0 %</text>
<text transform="matrix(0.6828 0 0 0.7138 1899.95 2943.15)" font-size="100">NaCl 0.05 %</text>
<text transform="matrix(0.6896 0 0 0.7138 1899.93 3055.40)" font-size="100">NaCl 0.1 %</text>
<text transform="matrix(0.6896 0 0 0.7138 1899.93 3167.65)" font-size="100">NaCl 0.5 %</text>
<text transform="matrix(0.6896 0 0 0.7138 1899.93 3279.90)" font-size="100">NaCl 1.0 %</text>
<text transform="matrix(0.6896 0 0 0.7138 1899.93 3392.15)" font-size="100">NaCl 2.0 %</text>
<text transform="matrix(0.6896 0 0 0.7138 1899.93 3504.40)" font-size="100">NaCl 4.0 %</text>
<text transform="matrix(0.6896 0 0 0.7138 1899.93 3616.65)" font-size="100">NaCl 6.0 %</text>
<text transform="matrix(0.6896 0 0 0.7138 1899.93 3728.90)" font-size="100">NaCl 8.0 %</text>
<text transform="matrix(0.6828 0 0 0.7138 1899.95 3841.15)" font-size="100">NaCl 10.0 %</text>
</svg>
</body>
</html>
